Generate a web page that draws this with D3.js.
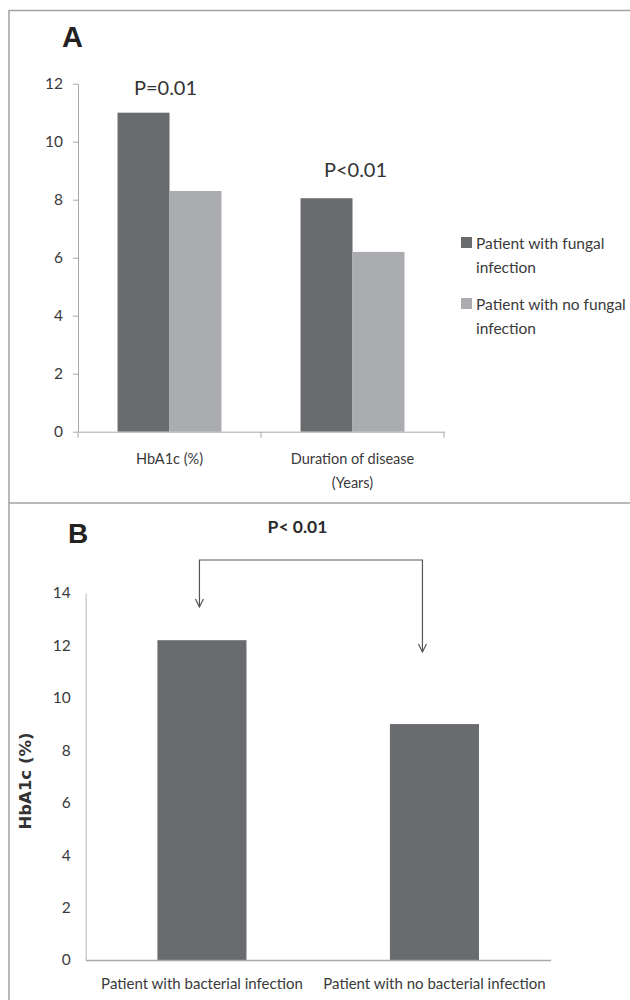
<!DOCTYPE html>
<html><head><meta charset="utf-8">
<script src="https://cdn.jsdelivr.net/npm/d3@7"></script>
<style>
body{margin:0;background:#fff;}
svg{display:block;}
</style></head>
<body>
<svg id="c" width="630" height="1000"></svg>
<script>
// ---------- Data ----------
const categoriesA = ["HbA1c (%)", "Duration of disease (Years)"];
const categoryLinesA = [["HbA1c (%)"], ["Duration of disease", "(Years)"]];
const seriesA = ["Patient with fungal infection", "Patient with no fungal infection"];
const seriesLegendLinesA = [["Patient with fungal", "infection"], ["Patient with no fungal", "infection"]];
const valuesFungal = [11.0, 8.05];
const valuesNoFungal = [8.3, 6.2];
const pLabelsA = ["P=0.01", "P<0.01"];
const yTicksA = [0, 2, 4, 6, 8, 10, 12];

const categoriesB = ["Patient with bacterial infection", "Patient with no bacterial infection"];
const valuesB = [12.2, 9.0];
const yTicksB = [0, 2, 4, 6, 8, 10, 12, 14];
const pLabelB = "P< 0.01";
const yTitleB = "HbA1c (%)";

const colors = ["#6a6b6f", "#aaacaf"];

// ---------- Setup ----------
const svg = d3.select("#c");
const textCol = "#3a3a3a";
const sansA = "Lato, 'Open Sans', sans-serif";
const narrow = "'Liberation Sans Narrow', 'Arial Narrow', Lato, sans-serif";

// Panel borders
svg.append("path")
  .attr("d", "M9,1000 V10.5 H630 M9,503 H630")
  .attr("fill", "none").attr("stroke", "#a3a3a3").attr("stroke-width", 1.5);

// ---------- Panel A ----------
const gA = svg.append("g");
const yA = d3.scaleLinear().domain([0, 12]).range([431.7, 83.7]);
const x0A = d3.scaleBand().domain(categoriesA).range([78, 444]).paddingInner(0.432).paddingOuter(0.216);
const x1A = d3.scaleBand().domain(seriesA).range([0, x0A.bandwidth()]);

const dataA = categoriesA.map((c, i) => ({cat: c, vals: [valuesFungal[i], valuesNoFungal[i]]}));

const groups = gA.selectAll("g.grp").data(dataA).join("g")
  .attr("transform", d => `translate(${x0A(d.cat)},0)`);
groups.selectAll("rect").data(d => d.vals.map((v, j) => ({s: seriesA[j], v, j}))).join("rect")
  .attr("x", d => x1A(d.s)).attr("width", x1A.bandwidth())
  .attr("y", d => yA(d.v)).attr("height", d => yA(0) - yA(d.v))
  .attr("fill", d => colors[d.j]);

// y axis A
const yAxA = gA.append("g").attr("transform", "translate(78,0)")
  .call(d3.axisLeft(yA).tickValues(yTicksA).tickSize(5).tickSizeOuter(0).tickPadding(10));
yAxA.select(".domain").attr("stroke", "#a8a8a8");
yAxA.selectAll(".tick line").attr("stroke", "#a8a8a8");
yAxA.selectAll(".tick text").attr("font-family", sansA).attr("font-size", 15.5).attr("fill", textCol);

// x axis A
const xAxA = gA.append("g").attr("transform", `translate(0,${yA(0)})`)
  .call(d3.axisBottom(x0A).tickSize(0).tickSizeOuter(0).tickFormat(""));
xAxA.select(".domain").attr("stroke", "#a8a8a8");
const bounds = [0, 1, 2].map(i => x0A.range()[0] + i * x0A.step());
gA.selectAll("line.bt").data(bounds).join("line")
  .attr("x1", d => d).attr("x2", d => d).attr("y1", yA(0)).attr("y2", yA(0) + 6)
  .attr("stroke", "#a8a8a8");
categoriesA.forEach((c, i) => {
  const t = gA.append("text").attr("text-anchor", "middle")
    .attr("font-family", sansA).attr("font-size", 14.5).attr("fill", textCol);
  categoryLinesA[i].forEach((ln, k) => {
    t.append("tspan").attr("x", x0A(c) + x0A.bandwidth() / 2).attr("y", 464 + k * 24).text(ln);
  });
});

// P labels A
dataA.forEach((d, i) => {
  gA.append("text").attr("text-anchor", "middle")
    .attr("x", x0A(d.cat) + x0A.bandwidth() / 2 - (i === 0 ? 4 : -3))
    .attr("y", yA(d3.max(d.vals)) - (i === 0 ? 18 : 21))
    .attr("font-family", sansA).attr("font-size", 20).attr("fill", "#333").text(pLabelsA[i]);
});

// Title A
gA.append("text").attr("x", 62).attr("y", 46.5).attr("font-family", "'Liberation Sans', Arial, sans-serif")
  .attr("font-weight", "bold").attr("font-size", 29).attr("fill", "#222").text("A");

// Legend A
const leg = gA.append("g").attr("transform", "translate(461,237)");
seriesA.forEach((s, j) => {
  const g = leg.append("g").attr("transform", `translate(0,${j * 61})`);
  g.append("rect").attr("width", 11).attr("height", 11).attr("fill", colors[j]);
  const t = g.append("text").attr("font-family", sansA).attr("font-size", 15.5).attr("fill", textCol);
  seriesLegendLinesA[j].forEach((ln, k) => {
    t.append("tspan").attr("x", 15).attr("y", 12 + k * 23.5).text(ln);
  });
});

// ---------- Panel B ----------
const gB = svg.append("g");
const yB = d3.scaleLinear().domain([0, 14]).range([960, 593]);
const xB = d3.scaleBand().domain(categoriesB).range([85.7, 550.7]).paddingInner(0.617).paddingOuter(0.3085);

gB.selectAll("rect").data(categoriesB.map((c, i) => ({c, v: valuesB[i]}))).join("rect")
  .attr("x", d => xB(d.c)).attr("width", xB.bandwidth())
  .attr("y", d => yB(d.v)).attr("height", d => yB(0) - yB(d.v))
  .attr("fill", colors[0]);

const yAxB = gB.append("g").attr("transform", "translate(85.7,0)")
  .call(d3.axisLeft(yB).tickValues(yTicksB).tickSize(0).tickSizeOuter(0).tickPadding(15));
yAxB.select(".domain").attr("stroke", "#cfcfcf").attr("stroke-width", 1.5);
yAxB.selectAll(".tick text").attr("font-family", narrow).attr("font-size", 15.5).attr("fill", textCol);

const xAxB = gB.append("g").attr("transform", `translate(0,${yB(0)})`)
  .call(d3.axisBottom(xB).tickSize(0).tickSizeOuter(0).tickPadding(18));
xAxB.select(".domain").attr("stroke", "#a8a8a8").attr("stroke-width", 1.5);
xAxB.selectAll(".tick text").attr("font-family", narrow).attr("font-size", 15).attr("fill", textCol);

// y title B
gB.append("text").attr("transform", "translate(31,781) rotate(-90)").attr("text-anchor", "middle")
  .attr("font-family", "'DejaVu Sans', Verdana, sans-serif").attr("font-weight", "bold")
  .attr("font-size", 16.5).attr("fill", "#333").text(yTitleB);

// Title B
gB.append("text").attr("x", 68).attr("y", 543).attr("font-family", "'Liberation Sans', Arial, sans-serif")
  .attr("font-weight", "bold").attr("font-size", 28).attr("fill", "#222").text("B");

// Bracket
const bx1 = xB(categoriesB[0]) + xB.bandwidth() / 2 - 2.5;
const bx2 = xB(categoriesB[1]) + xB.bandwidth() / 2 - 12;
const by = 560;
const tip1 = 607, tip2 = 652;
gB.append("path")
  .attr("d", `M${bx1},${tip1} V${by} H${bx2} V${tip2}`)
  .attr("fill", "none").attr("stroke", "#555").attr("stroke-width", 1.2);
[[bx1, tip1], [bx2, tip2]].forEach(([x, y]) => {
  gB.append("path").attr("d", `M${x - 4},${y - 8} L${x},${y} L${x + 4},${y - 8}`)
    .attr("fill", "none").attr("stroke", "#555").attr("stroke-width", 1.2);
});
gB.append("text").attr("x", (263 + 332) / 2).attr("y", 533).attr("text-anchor", "middle")
  .attr("font-family", sansA).attr("font-weight", "bold").attr("font-size", 17.5)
  .attr("fill", "#2a2a2a").text(pLabelB);
</script>
</body></html>
